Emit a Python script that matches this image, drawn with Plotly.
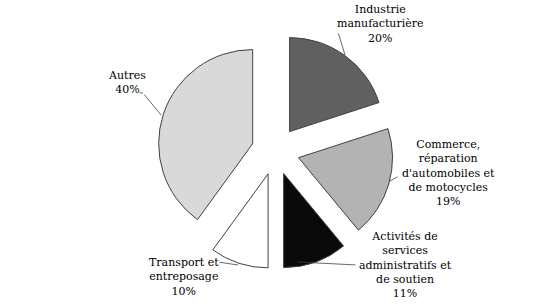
import plotly.graph_objects as go

W, H = 551, 305

sectors = ["Industrie manufacturière", "Commerce, réparation d'automobiles et de motocycles",
           "Activités de services administratifs et de soutien", "Transport et entreposage", "Autres"]
label_lines = ["Industrie<br>manufacturière", "Commerce,<br>réparation<br>d'automobiles et<br>de motocycles",
               "Activités de<br>services<br>administratifs et<br>de soutien", "Transport et<br>entreposage", "Autres"]
shares = [20, 19, 11, 10, 40]
colors = ["#606060", "#b3b3b3", "#0a0a0a", "#ffffff", "#d9d9d9"]

# label text centres (pixels) and leader lines (pixels: list of points)
label_pos = [(380, 24), (448, 173), (405, 265), (184, 277), (127, 82)]
leaders = [
    [(338, 32), (345, 55)],
    [(399, 176), (390, 181)],
    [(357, 265), (298, 262)],
    [(218, 262), (238, 265)],
    [(138, 93), (143, 93), (161, 115)],
]


def paper(x, y):
    return x / W, 1 - y / H


fig = go.Figure(go.Pie(
    labels=sectors, values=shares, sort=False, direction="clockwise", rotation=0,
    marker=dict(colors=colors, line=dict(color="#404040", width=1)),
    pull=[0.255] * len(shares), textinfo="none", hoverinfo="label+percent",
    domain=dict(x=[0, 1], y=[36 / H, 1 - 33 / H]), showlegend=False,
))

ann = []
for txt, v, (cx, cy) in zip(label_lines, shares, label_pos):
    x, y = paper(cx, cy)
    ann.append(dict(x=x, y=y, xref="paper", yref="paper", showarrow=False,
                    text=f"{txt}<br>{v}%", align="center", xanchor="center", yanchor="middle",
                    font=dict(family="DejaVu Serif", size=11, color="#000000")))
for pts in leaders:
    for (x0, y0), (x1, y1) in zip(pts[:-1], pts[1:]):
        hx, hy = paper(x1, y1)
        ann.append(dict(x=hx, y=hy, xref="paper", yref="paper", text="", showarrow=True,
                        arrowhead=0, arrowwidth=0.8, arrowcolor="#404040", standoff=0,
                        startstandoff=0, ax=x0 - x1, ay=y0 - y1, axref="pixel", ayref="pixel"))

fig.update_layout(width=W, height=H, margin=dict(l=0, r=0, t=0, b=0),
                  paper_bgcolor="white", plot_bgcolor="white", annotations=ann)
fig.write_html("out.html")
